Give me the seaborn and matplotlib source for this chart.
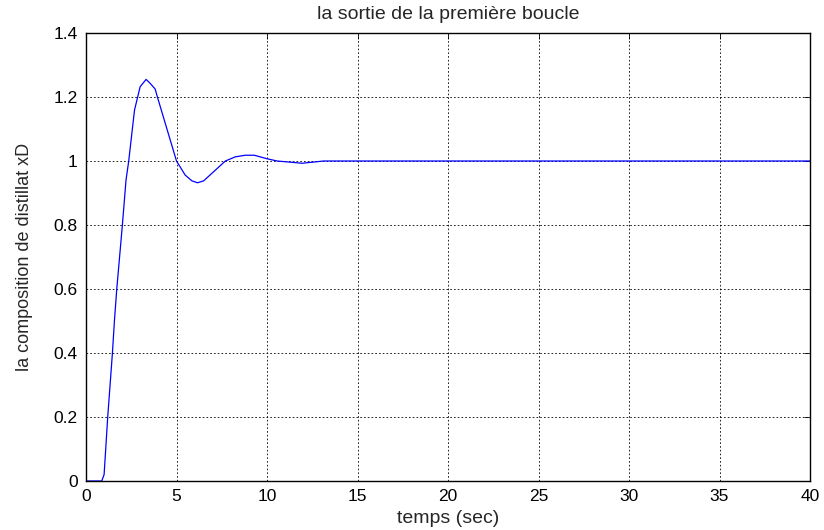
import matplotlib
matplotlib.use("Agg")
import matplotlib.pyplot as plt
import seaborn as sns
import pandas as pd

# Step response of the first loop (distillate composition xD)
temps = [0.0, 0.87, 1.0, 1.2, 1.46, 1.57, 1.70, 2.01, 2.21, 2.36, 2.68, 2.99,
         3.32, 3.54, 3.82, 3.95, 5.0, 5.48, 5.85, 6.16, 6.5, 7.7, 8.25, 8.8,
         9.3, 10.0, 10.56, 11.94, 13.14, 20.0, 30.0, 40.0]
xD = [0.0, 0.0, 0.02, 0.2, 0.4, 0.5, 0.6, 0.8, 0.94, 1.0, 1.159, 1.232,
      1.255, 1.243, 1.225, 1.199, 1.0, 0.956, 0.938, 0.932, 0.938, 1.0, 1.013, 1.018,
      1.018, 1.007, 1.0, 0.993, 1.0, 1.0, 1.0, 1.0]

x_ticks = [0, 5, 10, 15, 20, 25, 30, 35, 40]
y_ticks = [0, 0.2, 0.4, 0.6, 0.8, 1.0, 1.2, 1.4]
y_tick_labels = ["0", "0.2", "0.4", "0.6", "0.8", "1", "1.2", "1.4"]

df = pd.DataFrame({"temps": temps, "xD": xD})

sns.set_style("white")
plt.rcParams["font.family"] = ["Liberation Sans", "DejaVu Sans"]

fig = plt.figure(figsize=(8.24, 5.30), dpi=100)
ax = fig.add_axes([86 / 824, 49 / 530, 724 / 824, 448 / 530])

sns.lineplot(data=df, x="temps", y="xD", ax=ax, color="#0000ff",
             linewidth=0.9, estimator=None, sort=False)

ax.set_xlim(0, 40)
ax.set_ylim(0, 1.4)
ax.set_xticks(x_ticks)
ax.set_xticklabels([str(t) for t in x_ticks])
ax.set_yticks(y_ticks)
ax.set_yticklabels(y_tick_labels)

ax.grid(True, color="black", linestyle=(0, (2, 2.5)), linewidth=0.6)
ax.tick_params(direction="in", length=4, width=0.6, top=True, right=True,
               labelsize=12.5, colors="black")
ax.tick_params(axis="x", pad=6)
ax.tick_params(axis="y", pad=6)
for side in ax.spines.values():
    side.set_visible(True)
    side.set_color("black")
    side.set_linewidth(1.0)

ax.set_title("la sortie de la première boucle", fontsize=14, pad=10)
ax.set_xlabel("temps (sec)", fontsize=14, labelpad=4)
ax.set_ylabel("la composition de distillat xD", fontsize=13, labelpad=15)

fig.savefig("out.png", dpi=100, facecolor="white")
